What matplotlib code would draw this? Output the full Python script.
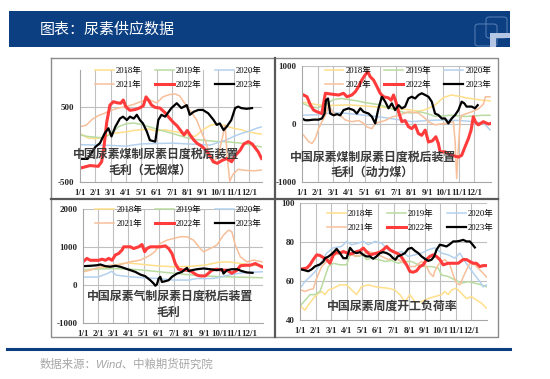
import matplotlib
matplotlib.use("Agg")
import matplotlib.pyplot as plt
from matplotlib.patches import Rectangle, FancyBboxPatch
from matplotlib.lines import Line2D
from matplotlib.font_manager import FontProperties

W, H = 550, 379

# ---------- labels ----------
months = ['1/1', '2/1', '3/1', '4/1', '5/1', '6/1', '7/1', '8/1', '9/1', '10/1', '11/1', '12/1']
years = ['2018年', '2019年', '2020年', '2021年', '2022年', '2023年']
title = '图表：尿素供应数据'
source = '数据来源：Wind、中粮期货研究院'

# ---------- panel 1: coal-based margin (anthracite), (month, yuan) ----------
anthr_2018 = [(0, 150), (0.5, 90), (1, 80), (1.5, 100), (2, 150), (2.5, 160), (3, 170), (3.5, 190), (4, 200),
              (4.5, 210), (5, 180), (5.5, 200), (6, 180), (6.5, 160), (7, 130), (7.5, 110), (8, 200), (8.5, 260),
              (9, 280), (9.5, 250), (10, 220), (10.5, 200), (11, 170), (11.5, 150), (11.85, 140)]
anthr_2019 = [(0, 130), (0.5, 110), (1, 100), (1.5, 90), (2, 140), (2.5, 240), (3, 280), (3.5, 290), (4, 270),
              (4.5, 240), (5, 210), (5.5, 180), (6, 150), (6.5, 120), (7, 90), (7.5, 70), (8, 60), (8.5, 50),
              (9, 40), (9.5, 40), (10, 30), (10.5, 20), (11, 0), (11.5, -20), (11.85, -30)]
anthr_2020 = [(0, 0), (1, -5), (2, -10), (3, -20), (4, 10), (5, 15), (6, 20), (7, 10), (8, 0), (8.5, -5),
              (9, 30), (9.5, 60), (10, 110), (10.5, 150), (11, 180), (11.5, 220), (11.85, 240)]
anthr_2021 = [(0, 240), (0.4, 260), (0.8, 340), (1.2, 390), (1.6, 420), (2.0, 460), (2.5, 490), (3.0, 510),
              (3.5, 540), (4.0, 580), (4.5, 600), (5.0, 560), (5.4, 640), (5.8, 670), (6.2, 680), (6.5, 650),
              (6.9, 530), (7.3, 420), (7.6, 330), (7.9, 170), (8.2, 30), (8.4, -100), (8.7, -230), (9.0, -150),
              (9.3, 120), (9.45, 260), (9.6, -200), (9.75, -490), (9.95, -400), (10.3, -330), (10.8, -345),
              (11.3, -350), (11.85, -340)]
anthr_2022 = [(0, -315), (0.65, -280), (1.19, -290), (1.41, -228), (1.56, -30), (1.74, 300), (1.95, 530),
              (2.17, 575), (2.43, 560), (2.65, 555), (2.82, 598), (2.99, 505), (3.25, 460), (3.58, 470),
              (3.86, 490), (4.12, 520), (4.30, 640), (4.45, 600), (4.66, 530), (4.88, 500), (5.21, 490),
              (5.53, 430), (5.81, 360), (6.07, 300), (6.33, 250), (6.55, 190), (6.77, 130), (6.98, 190),
              (7.2, 120), (7.42, 60), (7.64, 15), (7.92, -20), (8.18, -70), (8.42, -140), (8.68, -230),
              (8.94, -250), (9.22, -215), (9.54, -185), (9.87, -228), (10.13, -140), (10.41, -80), (10.67, 10),
              (10.95, 40), (11.21, 10), (11.43, -50), (11.6, -95), (11.82, -185)]
anthr_2023 = [(0, -190), (0.5, -190), (1.0, -30), (1.3, 20), (1.6, 150), (1.85, 220), (2.05, 110), (2.3, 240),
              (2.6, 350), (2.8, 375), (3.05, 330), (3.25, 375), (3.5, 350), (3.7, 400), (3.9, 330), (4.1, 285),
              (4.35, 175), (4.55, 60), (4.9, 40), (5.1, 330), (5.3, 400), (5.55, 375), (5.95, 490), (6.3, 555),
              (6.6, 490), (6.95, 530), (7.15, 400), (7.4, 440), (7.7, 465), (8.0, 465), (8.35, 420), (8.7, 330),
              (8.9, 265), (9.1, 285), (9.35, 195), (9.55, 240), (9.85, 330), (10.1, 490), (10.3, 510),
              (10.5, 490), (10.85, 480), (11.2, 490)]

# ---------- panel 2: coal-based margin (steam coal) ----------
steam_2018 = [(0, 380), (1, 330), (2, 320), (3, 330), (4, 310), (5, 290), (6, 270), (7, 240), (7.5, 220),
              (8, 260), (8.5, 330), (9, 450), (9.5, 500), (10, 480), (10.5, 450), (11, 430), (11.5, 410), (12, 400)]
steam_2019 = [(0, 360), (0.5, 300), (1, 280), (1.5, 330), (2, 420), (2.5, 440), (3, 420), (3.5, 400), (4, 370),
              (4.5, 350), (5, 330), (5.5, 280), (6, 240), (6.5, 200), (7, 190), (7.5, 210), (8, 180), (8.5, 130),
              (9, 140), (9.5, 150), (10, 140), (10.5, 130), (11, 140), (11.5, 150), (12, 150)]
steam_2020 = [(0, 150), (1, 160), (2, 200), (3, 180), (4, 150), (5, 120), (6, 80), (7, 40), (8, 60), (9, 70),
              (10, 60), (11, 40), (11.6, 10), (12, -100)]
steam_2021 = [(0.1, -190), (0.42, -305), (0.64, -335), (0.85, -250), (1.06, -80), (1.27, 40), (1.49, 150),
              (1.7, 330), (2.02, 180), (2.34, 170), (2.76, 70), (3.18, 40), (3.61, 60), (3.93, 10), (4.14, -50),
              (4.46, -80), (4.67, 10), (5.31, 60), (5.73, 120), (6.16, 150), (6.79, 210), (7.43, 190), (7.86, 95),
              (8.07, 40), (8.49, -15), (9.13, 10), (9.66, 40), (9.77, -300), (9.87, -940), (9.98, -400),
              (10.09, 50), (10.19, 150), (10.5, 180), (10.83, 210), (11.25, 260), (11.57, 340), (11.7, 470),
              (12.0, 470)]
steam_2022 = [(0.1, 500), (0.32, 470), (0.53, 330), (0.74, 240), (0.96, 210), (1.27, 180), (1.49, 530),
              (2.02, 510), (2.34, 500), (2.65, 530), (2.87, 470), (3.18, 500), (3.40, 555), (3.61, 645),
              (3.82, 760), (4.03, 845), (4.20, 900), (4.35, 815), (4.56, 760), (4.78, 645), (4.99, 530),
              (5.2, 470), (5.52, 450), (5.69, 410), (5.84, 500), (5.99, 385), (6.16, 210), (6.37, 40), (6.58, 60),
              (6.79, -45), (7.0, -80), (7.22, -20), (7.43, -165), (7.64, -195), (7.86, -105), (8.07, -310),
              (8.32, -290), (8.54, -220), (8.7, -335), (8.81, -480), (9.13, -480), (9.55, -540), (9.98, -570),
              (10.19, -540), (10.4, -395), (10.62, -250), (10.79, -105), (10.93, 125), (11.08, 30),
              (11.25, -15), (11.57, 40), (11.89, 0), (12.06, 10)]
steam_2023 = [(0, 95), (0.21, 65), (0.42, 65), (0.74, 75), (1.06, 75), (1.27, 95), (1.44, 180), (1.53, 410),
              (1.66, 440), (1.80, 180), (2.02, 150), (2.23, 170), (2.44, 150), (2.65, 240), (2.97, 270),
              (3.29, 240), (3.5, 180), (3.72, 270), (3.93, 210), (4.25, 180), (4.46, 125), (4.67, 10), (4.88, 270),
              (5.1, 470), (5.31, 385), (5.52, 270), (5.73, 355), (5.94, 240), (6.16, 325), (6.37, 270),
              (6.58, 300), (6.79, 440), (7.0, 470), (7.22, 440), (7.43, 500), (7.64, 530), (7.86, 500),
              (8.07, 470), (8.28, 385), (8.49, 180), (8.7, 155), (8.92, 95), (9.13, 95), (9.34, 10), (9.55, 95),
              (9.77, 155), (9.98, 240), (10.19, 385), (10.36, 355), (10.5, 300), (10.83, 300), (11.04, 270),
              (11.21, 325)]

# ---------- panel 3: gas-based margin ----------
gas_2018 = [(0, 390), (1, 430), (2, 500), (2.5, 560), (3, 580), (4, 540), (5, 500), (6, 480), (7, 490), (8, 520),
            (8.5, 560), (9, 600), (9.5, 610), (10, 590), (10.5, 560), (11, 530), (11.9, 510)]
gas_2019 = [(0, 400), (1, 420), (2, 430), (3, 420), (4, 390), (5, 350), (6, 310), (7, 270), (8, 240), (9, 220),
            (10, 210), (11, 200), (11.9, 190)]
gas_2020 = [(0, 210), (1, 210), (1.6, 300), (1.9, 360), (2.2, 260), (3, 220), (4, 190), (5, 170), (6, 130),
            (7, 130), (7.5, 170), (8.5, 170), (9, 200), (9.5, 250), (10.5, 320), (11.9, 350)]
gas_2021 = [(0, 345), (0.48, 390), (1.15, 480), (1.81, 520), (2.47, 540), (3.13, 610), (3.79, 655), (4.45, 785),
            (4.78, 890), (5.11, 1095), (5.55, 1180), (5.99, 1225), (6.43, 1270), (6.87, 1270), (7.31, 1180),
            (7.75, 960), (7.97, 875), (8.41, 960), (8.85, 1050), (9.29, 1315), (9.63, 1445), (9.84, 1400),
            (10.07, 1050), (10.4, 740), (10.84, 610), (11.28, 655), (11.83, 610)]
gas_2022 = [(0, 610), (0.26, 700), (0.48, 650), (0.7, 650), (1.04, 650), (1.26, 680), (1.48, 650), (1.7, 700),
            (1.92, 650), (2.14, 790), (2.36, 830), (2.58, 920), (2.69, 1005), (2.86, 1005), (3.13, 1005),
            (3.35, 960), (3.68, 1005), (3.9, 1065), (4.08, 875), (4.23, 960), (4.45, 1005), (4.78, 1005),
            (5.11, 1005), (5.44, 1030), (5.66, 960), (5.88, 830), (5.99, 700), (6.1, 565), (6.32, 415),
            (6.65, 390), (6.98, 390), (7.2, 345), (7.53, 260), (7.75, 240), (8.08, 240), (8.3, 310), (8.52, 390),
            (8.85, 415), (9.18, 390), (9.51, 390), (9.84, 310), (10.18, 390), (10.4, 505), (10.73, 520),
            (11.06, 520), (11.39, 565), (11.61, 520), (11.83, 480)]
gas_2023 = [(0, 495), (0.48, 505), (0.93, 520), (1.15, 540), (1.48, 495), (1.81, 480), (2.14, 505), (2.47, 480),
            (2.8, 435), (3.13, 390), (3.46, 345), (3.79, 275), (4.12, 230), (4.45, 125), (4.67, 40), (4.78, -20),
            (4.89, 20), (5.0, 170), (5.11, 215), (5.22, 80), (5.44, 100), (5.66, 125), (5.88, 215), (6.21, 300),
            (6.54, 345), (6.76, 415), (6.87, 450), (6.98, 365), (7.2, 390), (7.53, 415), (7.97, 435),
            (8.41, 415), (8.85, 390), (9.18, 415), (9.29, 300), (9.51, 390), (9.84, 415), (10.18, 415),
            (10.51, 365), (10.84, 330), (11.21, 320)]

# ---------- panel 4: weekly operating rate (%) ----------
rate_2018 = [(0.06, 47), (0.32, 45), (0.53, 47.7), (0.85, 51), (1.18, 53.7), (1.39, 54.6), (1.6, 53), (1.82, 55.4),
             (2.14, 56.3), (2.56, 58), (2.99, 58), (3.42, 54.6), (3.63, 53), (3.95, 57.1), (4.38, 58), (4.81, 57.1),
             (5.24, 56.6), (5.66, 56.3), (6.09, 55.4), (6.41, 53), (6.73, 49.4), (7.05, 53), (7.37, 49.4),
             (7.8, 49.4), (8.23, 51), (8.65, 52), (9.08, 53), (9.29, 54.6), (9.51, 53), (9.72, 55.4),
             (10.04, 56.3), (10.36, 53.7), (10.68, 51), (11.0, 52), (11.32, 50.3), (11.65, 48.6), (11.97, 46)]
rate_2019 = [(0.06, 47.7), (0.43, 51), (0.64, 53), (0.96, 53), (1.28, 54.6), (1.5, 59.7), (1.82, 67.4),
             (2.14, 69.1), (2.56, 68.3), (2.99, 68.3), (3.21, 73.4), (3.42, 73.4), (3.74, 72.6), (4.06, 73.4),
             (4.27, 71), (4.59, 71.7), (5.02, 71), (5.45, 70), (5.88, 70.5), (6.3, 69.1), (6.73, 70), (7.16, 70),
             (7.59, 68.3), (8.01, 67.4), (8.44, 67.4), (8.87, 66.6), (9.08, 63.1), (9.51, 62.3), (9.94, 60.6),
             (10.36, 58.9), (10.79, 59.7), (11.22, 58.9), (11.65, 58), (11.97, 57.1)]
rate_2020 = [(0.06, 57), (0.32, 59.7), (0.75, 63), (1.07, 65.7), (1.39, 70), (1.71, 74.3), (2.14, 77), (2.67, 77.7),
             (2.99, 80.3), (3.31, 78.6), (3.74, 79.4), (4.06, 80.3), (4.38, 78.6), (4.81, 80.3), (5.24, 79.4),
             (5.66, 76), (6.09, 74.3), (6.52, 75.1), (6.94, 72.6), (7.37, 73.4), (7.8, 74.3), (8.23, 76),
             (8.65, 77), (9.08, 74.3), (9.51, 73.4), (9.94, 71.7), (10.26, 74.3), (10.58, 70), (10.9, 66.6),
             (11.22, 63), (11.54, 59.7), (11.75, 57), (11.97, 58)]
rate_2021 = [(0.06, 55.4), (0.32, 54.6), (0.53, 55.4), (0.85, 56), (1.07, 61.4), (1.39, 67.4), (1.82, 71),
             (2.24, 73.4), (2.67, 74.3), (3.1, 75.1), (3.53, 72.6), (3.95, 73.4), (4.38, 75.1), (4.81, 74.3),
             (5.24, 72.6), (5.66, 71), (6.09, 71.7), (6.52, 70), (6.94, 67.4), (7.37, 67.4), (7.8, 70),
             (8.12, 67.4), (8.33, 64), (8.55, 62.3), (8.65, 65), (8.87, 68.3), (9.08, 70), (9.29, 71),
             (9.62, 68.3), (9.83, 63.1), (10.04, 58.9), (10.26, 58), (10.58, 64), (10.9, 69.1), (11.22, 68.3),
             (11.54, 65.7), (11.86, 63.1), (12.0, 61.8)]
rate_2022 = [(0.11, 66.2), (0.43, 66.6), (0.64, 68.3), (0.85, 71), (1.07, 73.4), (1.28, 73.1), (1.5, 72),
             (1.71, 71), (1.92, 69.1), (2.14, 73.4), (2.35, 74.8), (2.56, 74.3), (2.78, 75.1), (2.99, 74.5),
             (3.21, 73.8), (3.42, 74.3), (3.63, 75.1), (3.85, 75.5), (4.06, 76.9), (4.27, 75.1), (4.49, 73.4),
             (4.7, 73.8), (4.91, 74.3), (5.13, 74.8), (5.34, 76), (5.56, 77.7), (5.77, 76), (5.98, 75.1),
             (6.2, 74.3), (6.41, 73.4), (6.62, 71), (6.84, 68.3), (7.05, 64.9), (7.26, 64.5), (7.48, 65.2),
             (7.69, 67.4), (7.91, 68.3), (8.12, 71), (8.33, 72.6), (8.55, 73.4), (8.76, 72.6), (8.97, 71),
             (9.19, 68.3), (9.51, 69.1), (9.83, 69.1), (10.15, 69.1), (10.47, 71), (10.68, 71), (10.9, 70),
             (11.11, 69.1), (11.32, 69.1), (11.54, 67.4), (11.75, 67.9), (11.97, 67.9)]
rate_2023 = [(0.06, 66), (0.53, 65), (0.75, 66), (0.96, 67.5), (1.28, 68.5), (1.5, 70), (1.6, 71.7), (1.82, 72.5),
             (2.03, 73.8), (2.24, 75.5), (2.35, 76.5), (2.56, 74.3), (2.78, 71.7), (2.99, 71.7), (3.21, 77),
             (3.42, 75), (3.63, 74.3), (3.85, 74.8), (4.06, 73.4), (4.27, 72.6), (4.49, 72.6), (4.7, 71.4),
             (4.91, 72.6), (5.13, 74.3), (5.34, 74.8), (5.56, 74.3), (5.77, 73.4), (5.98, 71.7), (6.13, 70.9),
             (6.26, 72.6), (6.52, 73.4), (6.73, 74.3), (6.94, 76.5), (7.16, 77), (7.37, 75.5), (7.59, 74.3),
             (7.8, 72.6), (8.01, 71.4), (8.23, 70.3), (8.44, 70.9), (8.61, 72.6), (8.76, 76), (8.97, 78.6),
             (9.19, 78.2), (9.4, 77.7), (9.62, 78.9), (9.83, 80.3), (10.04, 80.3), (10.26, 80.6), (10.47, 81.1),
             (10.68, 80.3), (10.9, 80.3), (11.05, 78.9), (11.22, 77.2)]

# ---------- styles ----------
colors = ['#ffdf8a', '#b9dba1', '#b3d1ee', '#f7bf9a', '#ff3b3b', '#000000']
widths = [1.1, 1.1, 1.1, 1.1, 2.2, 1.6]
grid_c = '#c0c0c0'
serif = FontProperties(family=['Liberation Serif', 'Noto Sans CJK SC'], weight='bold', size=6.5)
leg_font = FontProperties(family=['Liberation Serif', 'Noto Sans CJK SC'], size=6.2)
cjk_bold = FontProperties(family=['Noto Sans CJK SC'], weight='bold', size=8.6)
# legend is filled column by column: reorder so rows read 2018/2019/2020, 2021/2022/2023
leg_order = [0, 3, 1, 4, 2, 5]


def fx(x):
    return x / W


def fy(y):
    return 1 - y / H


def axes_px(x0, y0, x1, y1):
    # pixel box (top-left origin) -> figure fraction rect
    return [fx(x0), fy(y1), (x1 - x0) / W, (y1 - y0) / H]


panels = [
    dict(series=[anthr_2018, anthr_2019, anthr_2020, anthr_2021, anthr_2022, anthr_2023],
         box=(80, 70, 262, 182), xlim=11.85, ylim=(-500, 1000), yticks=[-500, 500], hgrid=[500],
         leg=(0.54, 0.93), text=[('中国尿素煤制尿素日度税后装置', 156, 154), ('毛利（无烟煤）', 150, 170)]),
    dict(series=[steam_2018, steam_2019, steam_2020, steam_2021, steam_2022, steam_2023],
         box=(302, 66, 491, 182), xlim=12.06, ylim=(-1000, 1000), yticks=[-1000, 0, 1000], hgrid=[0, 1000],
         leg=(0.56, 0.90), text=[('中国尿素煤制尿素日度税后装置', 373, 157), ('毛利（动力煤）', 372, 172)]),
    dict(series=[gas_2018, gas_2019, gas_2020, gas_2021, gas_2022, gas_2023],
         box=(83, 209, 263, 323), xlim=11.9, ylim=(-1000, 2000), yticks=[-1000, 0, 1000, 2000],
         hgrid=[0, 1000, 2000],
         leg=(0.53, 0.93), text=[('中国尿素气制尿素日度税后装置', 170, 296), ('毛利', 168, 312)]),
    dict(series=[rate_2018, rate_2019, rate_2020, rate_2021, rate_2022, rate_2023],
         box=(300, 203, 487, 320), xlim=12.0, ylim=(40, 100), yticks=[40, 60, 80, 100], hgrid=[60, 80, 100],
         leg=(0.59, 0.85), text=[('中国尿素周度开工负荷率', 392, 306)]),
]

fig = plt.figure(figsize=(W / 100, H / 100), dpi=100)
fig.patch.set_facecolor('white')

# header bar + logo
fig.patches.append(Rectangle((fx(9), fy(47)), 501 / W, 36 / H, transform=fig.transFigure,
                             facecolor='#0b3f82', edgecolor='none'))
fig.text(fx(40), fy(30), title, color='white', fontsize=10.8, va='center', ha='left',
         family=['Noto Sans CJK SC'])
for (x0, y0, x1, y1) in [(475, 24, 497, 46), (486, 17, 507, 38)]:
    fig.patches.append(FancyBboxPatch((fx(x0), fy(y1)), (x1 - x0) / W, (y1 - y0) / H,
                                      boxstyle='round,pad=0,rounding_size=0.006', transform=fig.transFigure,
                                      facecolor='none', edgecolor='#5a7fb5', lw=0.7))
fig.patches.append(Rectangle((fx(490), fy(47)), 6 / W, 14 / H, transform=fig.transFigure,
                             facecolor='#b4c6e4', edgecolor='none'))
fig.patches.append(Rectangle((fx(490), fy(38)), 20 / W, 5 / H, transform=fig.transFigure,
                             facecolor='#b4c6e4', edgecolor='none'))

# panel frames
for (xs, ys, c, lw) in [([51, 498, 498, 51, 51], [58, 58, 337, 337, 58], '#8c8c8c', 1.0),
                        ([275, 275], [58, 337], '#595959', 1.6),
                        ([51, 498], [199, 199], '#595959', 1.6)]:
    fig.lines.append(Line2D([fx(v) for v in xs], [fy(v) for v in ys], transform=fig.transFigure,
                            color=c, lw=lw))

for p in panels:
    ax = fig.add_axes(axes_px(*p['box']))
    ax.set_facecolor('none')
    for m in range(1, 12):
        ax.axvline(m, color=grid_c, lw=0.8, zorder=0)
    for g in p['hgrid']:
        ax.axhline(g, color=grid_c, lw=0.8, zorder=0)
    handles = []
    for s, lab, c, lw in zip(p['series'], years, colors, widths):
        xs = [a for a, b in s]
        ys = [b for a, b in s]
        h, = ax.plot(xs, ys, color=c, lw=lw, label=lab, solid_joinstyle='round')
        handles.append(h)
    ax.set_xlim(0, p['xlim'])
    ax.set_ylim(*p['ylim'])
    ax.set_xticks(range(12))
    ax.set_xticklabels(months, fontproperties=serif, color='#262626')
    ax.set_yticks(p['yticks'])
    ax.set_yticklabels([str(v) for v in p['yticks']], fontproperties=serif, color='#262626')
    ax.tick_params(length=0, pad=4)
    ax.tick_params(axis='x', pad=5)
    for side in ['top', 'right']:
        ax.spines[side].set_visible(False)
    for side in ['left', 'bottom']:
        ax.spines[side].set_color('#a6a6a6')
        ax.spines[side].set_linewidth(0.8)
    ax.legend(handles=[handles[i] for i in leg_order], loc='center', bbox_to_anchor=p['leg'], ncol=3,
              frameon=False, prop=leg_font, handlelength=2.2, handletextpad=0.25, columnspacing=1.5,
              labelspacing=0.7, borderpad=0)
    for (t, x, y) in p['text']:
        fig.text(fx(x), fy(y), t, fontproperties=cjk_bold, color='#3a3a3a', ha='center', va='center')

# footer
fig.lines.append(Line2D([fx(7), fx(510)], [fy(349), fy(349)], transform=fig.transFigure,
                        color='#0b3f82', lw=2.2))
fig.text(fx(40), fy(364), source, color='#a6a6a6', fontsize=8.2, style='italic', ha='left', va='center',
         family=['Liberation Sans', 'Noto Sans CJK SC'])

fig.savefig('out.png', dpi=100)
